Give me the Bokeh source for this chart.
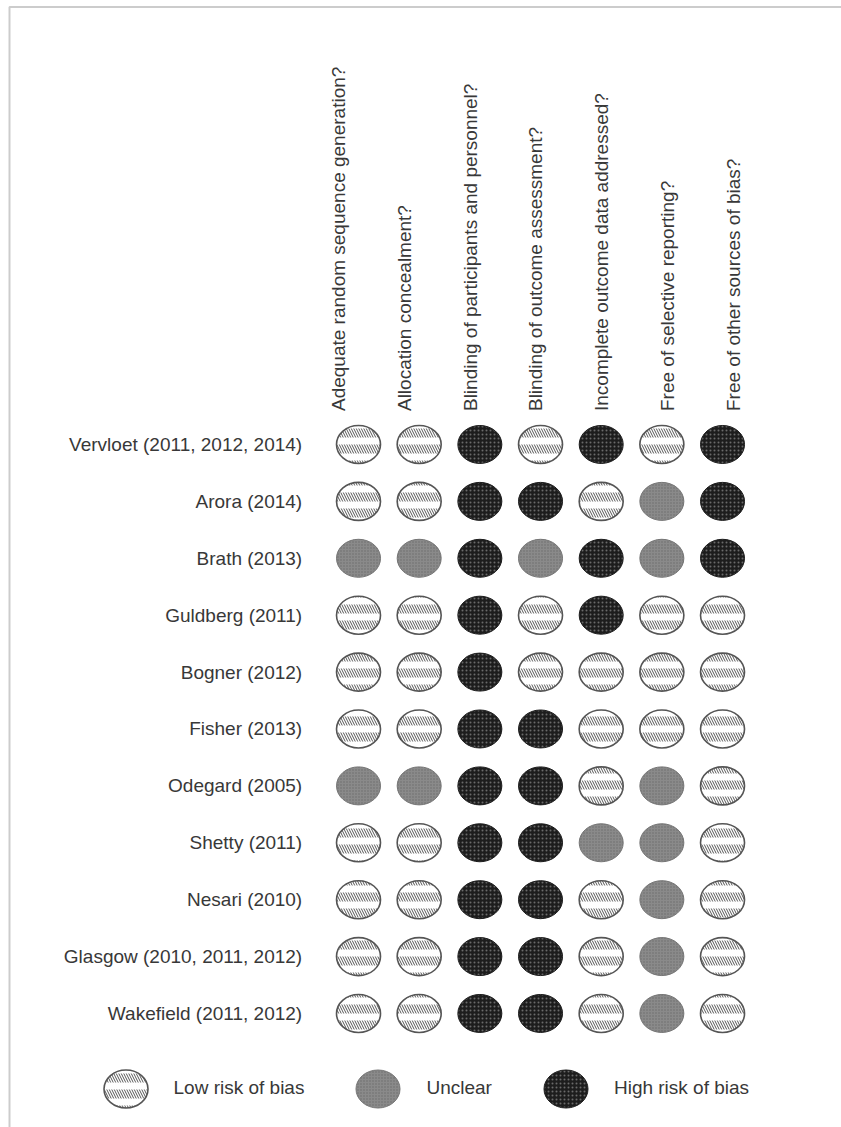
import math

from bokeh.embed import file_html
from bokeh.models import (BoxAnnotation, ColumnDataSource, Legend, LegendItem,
                          Range1d)
from bokeh.plotting import figure
from bokeh.resources import INLINE

studies = [
    "Vervloet (2011, 2012, 2014)",
    "Arora (2014)",
    "Brath (2013)",
    "Guldberg (2011)",
    "Bogner (2012)",
    "Fisher (2013)",
    "Odegard (2005)",
    "Shetty (2011)",
    "Nesari (2010)",
    "Glasgow (2010, 2011, 2012)",
    "Wakefield (2011, 2012)",
]

domains = [
    "Adequate random sequence generation?",
    "Allocation concealment?",
    "Blinding of participants and personnel?",
    "Blinding of outcome assessment?",
    "Incomplete outcome data addressed?",
    "Free of selective reporting?",
    "Free of other sources of bias?",
]

# One judgement per study, listed in the same order as `studies`.
sequence_generation = ["low", "low", "unclear", "low", "low", "low", "unclear", "low", "low", "low", "low"]
allocation_concealment = ["low", "low", "unclear", "low", "low", "low", "unclear", "low", "low", "low", "low"]
blinding_participants = ["high", "high", "high", "high", "high", "high", "high", "high", "high", "high", "high"]
blinding_outcome = ["low", "high", "unclear", "low", "low", "high", "high", "high", "high", "high", "high"]
incomplete_outcome = ["high", "low", "high", "high", "low", "low", "low", "unclear", "low", "low", "low"]
selective_reporting = ["low", "unclear", "unclear", "low", "low", "low", "unclear", "unclear", "unclear", "unclear", "unclear"]
other_bias = ["high", "high", "high", "low", "low", "low", "low", "low", "low", "low", "low"]

judgement_columns = [
    sequence_generation,
    allocation_concealment,
    blinding_participants,
    blinding_outcome,
    incomplete_outcome,
    selective_reporting,
    other_bias,
]

legend_labels = {"low": "Low risk of bias", "unclear": "Unclear", "high": "High risk of bias"}

# Split the grid into one source per judgement
cells = {k: {"x": [], "y": []} for k in legend_labels}
for xi, column in enumerate(judgement_columns):
    for yi, judgement in enumerate(column):
        cells[judgement]["x"].append(xi)
        cells[judgement]["y"].append(yi)
sources = {k: ColumnDataSource(v) for k, v in cells.items()}

FONT = "Liberation Sans"
TEXT = "#383838"

# The plotting frame covers the whole page; one unit = one column / one row.
p = figure(
    width=841, height=1127,
    output_backend="svg", toolbar_location=None, title=None,
    x_range=Range1d(-5.901, 7.961),
    y_range=Range1d(12.004, -7.803),
    x_axis_location=None, y_axis_location=None,
    min_border=0,
)
p.background_fill_color = "white"
p.border_fill_color = "white"
p.outline_line_color = None
p.grid.visible = False

# Column headings run on a slightly wider scale than the dots
p.extra_x_ranges = {"head": Range1d(-5.137, 7.644)}

# Study names, right-aligned against the grid
row_src = ColumnDataSource(dict(
    x=[-0.5] * len(studies),
    y=list(range(len(studies))),
    text=studies,
))
p.text("x", "y", text="text", source=row_src,
       x_offset=-26, text_align="right", text_baseline="middle",
       text_font=dict(value=FONT), text_font_size="19px", text_color=TEXT)

# Vertical column headings above the grid
head_src = ColumnDataSource(dict(
    x=list(range(len(domains))),
    y=[-0.5] * len(domains),
    text=domains,
))
p.text("x", "y", text="text", source=head_src, x_range_name="head",
       angle=math.pi / 2, y_offset=-5,
       text_align="left", text_baseline="middle",
       text_font=dict(value=FONT), text_font_size="19px", text_color=TEXT)

dot = dict(width=44, height=38, width_units="screen", height_units="screen")

# Low risk: white disc with rows of short back-slanted strokes
r_low = p.ellipse("x", "y", source=sources["low"], fill_color="white", line_color=None,
                  hatch_pattern="left_diagonal_line", hatch_color="#555555",
                  hatch_scale=5, hatch_weight=1.0, **dot)
r_low_bands = p.ellipse("x", "y", source=sources["low"], fill_color=None,
                        hatch_pattern="horizontal_line", hatch_color="white",
                        hatch_scale=16, hatch_weight=7,
                        line_color="#555555", line_width=1.6, **dot)

# Unclear: mid-grey stipple
r_unclear = p.ellipse("x", "y", source=sources["unclear"], fill_color="#8a8a8a",
                      hatch_pattern="dot", hatch_color="#6a6a6a",
                      hatch_scale=3, hatch_weight=1,
                      line_color="#767676", line_width=1, **dot)

# High risk: near-black stipple
r_high = p.ellipse("x", "y", source=sources["high"], fill_color="#1d1d1d",
                   hatch_pattern="dot", hatch_color="#6a6a6a",
                   hatch_scale=4, hatch_weight=1,
                   line_color="#1d1d1d", line_width=1, **dot)

legend = Legend(
    items=[
        LegendItem(label=legend_labels["low"], renderers=[r_low, r_low_bands]),
        LegendItem(label=legend_labels["unclear"], renderers=[r_unclear]),
        LegendItem(label=legend_labels["high"], renderers=[r_high]),
    ],
    orientation="horizontal",
    location=(97.5, 11.5),
    glyph_width=55, glyph_height=55,
    label_standoff=21, spacing=46,
    padding=0, margin=0,
    border_line_color=None, background_fill_alpha=0,
    label_text_font=FONT, label_text_font_size="19px", label_text_color=TEXT,
)
p.add_layout(legend)

# Page frame: rule along the top and left edges
p.add_layout(BoxAnnotation(
    left=9, right=5000, top=6.5, bottom=5000,
    left_units="canvas", right_units="canvas", top_units="canvas", bottom_units="canvas",
    fill_alpha=0, line_color="#555555", line_width=2,
))

open("out.html", "w").write(file_html(p, INLINE))
